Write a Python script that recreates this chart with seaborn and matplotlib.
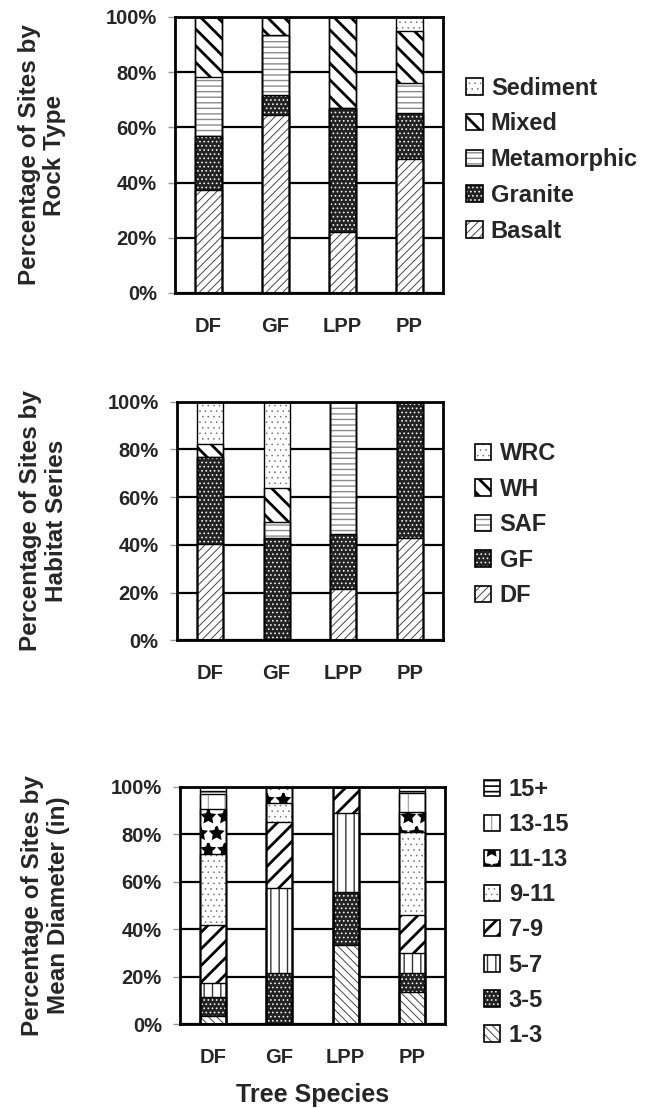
import matplotlib
matplotlib.use("Agg")
import matplotlib.pyplot as plt
from matplotlib.patches import Patch
from matplotlib.colors import to_rgba
import numpy as np
import pandas as pd
import seaborn as sns

# ---------------- data ----------------
species = ["DF", "GF", "LPP", "PP"]
y_ticks = [0, 20, 40, 60, 80, 100]
y_tick_labels = ["0%", "20%", "40%", "60%", "80%", "100%"]

rock_types = ["Basalt", "Granite", "Metamorphic", "Mixed", "Sediment"]
rock_basalt = [37.3, 64.5, 22.1, 48.6]
rock_granite = [19.6, 7.2, 44.9, 16.7]
rock_metamorphic = [21.5, 21.7, 0.0, 10.7]
rock_mixed = [21.6, 6.6, 33.0, 19.0]
rock_sediment = [0.0, 0.0, 0.0, 5.0]

habitat_series = ["DF", "GF", "SAF", "WH", "WRC"]
hab_df = [40.4, 0.0, 21.5, 42.7]
hab_gf = [36.6, 43.0, 22.9, 57.3]
hab_saf = [0.0, 6.7, 55.6, 0.0]
hab_wh = [5.3, 14.3, 0.0, 0.0]
hab_wrc = [17.7, 36.0, 0.0, 0.0]

diameter_classes = ["1-3", "3-5", "5-7", "7-9", "9-11", "11-13", "13-15", "15+"]
d_1_3 = [3.4, 0.0, 33.3, 13.6]
d_3_5 = [8.1, 21.6, 22.5, 7.7]
d_5_7 = [5.6, 35.6, 33.0, 8.5]
d_7_9 = [24.6, 28.0, 11.2, 16.1]
d_9_11 = [29.8, 7.8, 0.0, 35.1]
d_11_13 = [19.0, 7.0, 0.0, 8.5]
d_13_15 = [6.5, 0.0, 0.0, 8.0]
d_15p = [3.0, 0.0, 0.0, 2.5]

# ---------------- styles ----------------
S = {
    "fine_fwd": dict(face="white", hatch="////", hc="#444444", hlw=0.7),
    "fine_back": dict(face="white", hatch="\\\\\\\\", hc="#444444", hlw=0.7),
    "dark_dots": dict(face="#222222", hatch="....", hc="#f0f0f0", hlw=0.7),
    "wave": dict(face="white", hatch="---", hc="#8c8c8c", hlw=1.0),
    "thick_back": dict(face="white", hatch="\\\\", hc="#000000", hlw=2.0),
    "thick_fwd": dict(face="white", hatch="//", hc="#010101", hlw=2.0),
    "gray_dots": dict(face="white", hatch="...", hc="#707070", hlw=0.4),
    "vdash": dict(face="white", hatch="||", hc="#333333", hlw=1.0),
    "diamonds": dict(face="white", hatch="*", hc="#020202", hlw=1.8),
    "sparse_v": dict(face="white", hatch="|", hc="#999999", hlw=0.8),
    "hlines": dict(face="white", hatch="---", hc="#030303", hlw=1.2),
}

sns.set_style("white")
plt.rcParams["font.family"] = ["Liberation Sans", "DejaVu Sans"]
plt.rcParams["font.weight"] = "bold"

fig = plt.figure(figsize=(6.59, 11.08), dpi=100)


def style_patch(p, st):
    p.set_facecolor(st["face"])
    p.set_hatch(st["hatch"])
    p.set_edgecolor(st["hc"])
    p.set_linewidth(0)


def draw_panel(ax, layers, names, styles, ylabel, ylabel_x, leg_anchor,
               labelspacing):
    cum = np.cumsum(np.array(layers, dtype=float), axis=0)
    n = len(layers)
    # filled layers, drawn from top of stack downwards
    for k in reversed(range(n)):
        st = S[styles[k]]
        df = pd.DataFrame({"species": species, "pct": cum[k]})
        before = len(ax.patches)
        sns.barplot(data=df, x="species", y="pct", order=species,
                    color=st["face"], width=0.39, errorbar=None,
                    saturation=1, ax=ax)
        for p in ax.patches[before:]:
            style_patch(p, st)
    # outlines
    for k in range(n):
        df = pd.DataFrame({"species": species, "pct": cum[k]})
        sns.barplot(data=df, x="species", y="pct", order=species,
                    color="black", fill=False, width=0.39, errorbar=None,
                    linewidth=1.0, saturation=1, ax=ax)

    ax.set_ylim(0, 100)
    ax.set_xlim(-0.5, 3.5)
    ax.set_yticks(y_ticks)
    ax.set_yticklabels(y_tick_labels)
    ax.set_xticks(range(len(species)))
    ax.set_xticklabels(species)
    ax.set_xticks([-0.5, 0.5, 1.5, 2.5, 3.5], minor=True)
    ax.tick_params(axis="x", which="major", length=0, pad=17,
                   labelsize=14.5)
    ax.tick_params(axis="x", which="minor", length=5, width=1,
                   color="#999999", direction="out")
    ax.tick_params(axis="y", which="major", length=5, width=1,
                   color="#999999", direction="out", pad=8, labelsize=14.5,
                   left=True)
    for lab in ax.get_xticklabels() + ax.get_yticklabels():
        lab.set_fontweight("bold")
    ax.yaxis.grid(True, color="black", linewidth=1.6)
    ax.xaxis.grid(False)
    ax.set_axisbelow(True)
    for sp in ax.spines.values():
        sp.set_visible(True)
        sp.set_color("black")
        sp.set_linewidth(2.0)
    ax.set_xlabel("")
    ax.set_ylabel(ylabel, fontsize=17.5, fontweight="bold", linespacing=1.15)
    ax.yaxis.set_label_coords(ylabel_x, 0.5)

    handles = []
    for k in range(n):
        st = S[styles[k]]
        fp = Patch(facecolor=st["face"], edgecolor=st["hc"],
                   hatch=st["hatch"], linewidth=0)
        op = Patch(facecolor="none", edgecolor="black", linewidth=1.2)
        handles.append((fp, op))
    ax.legend(handles=handles[::-1], labels=names[::-1], loc="center left",
              bbox_to_anchor=leg_anchor, frameon=False,
              prop={"weight": "bold", "size": 17},
              handlelength=0.7, handleheight=0.7, handletextpad=0.35,
              labelspacing=labelspacing, borderpad=0, borderaxespad=0)


W, H = 659.0, 1108.0
ax1 = fig.add_axes([175 / W, 1 - 293 / H, 268 / W, 276 / H])
ax2 = fig.add_axes([176.7 / W, 1 - 640.3 / H, 266.3 / W, 238.6 / H])
ax3 = fig.add_axes([180 / W, 1 - 1024 / H, 265 / W, 237.3 / H])

draw_panel(ax1,
           [rock_basalt, rock_granite, rock_metamorphic, rock_mixed, rock_sediment],
           rock_types,
           ["fine_fwd", "dark_dots", "wave", "thick_back", "gray_dots"],
           "Percentage of Sites by\nRock Type", -0.405, (1.086, 0.483), 0.54)

draw_panel(ax2,
           [hab_df, hab_gf, hab_saf, hab_wh, hab_wrc],
           habitat_series,
           ["fine_fwd", "dark_dots", "wave", "thick_back", "gray_dots"],
           "Percentage of Sites by\nHabitat Series", -0.41, (1.12, 0.485), 0.53)

draw_panel(ax3,
           [d_1_3, d_3_5, d_5_7, d_7_9, d_9_11, d_11_13, d_13_15, d_15p],
           diameter_classes,
           ["fine_back", "dark_dots", "vdash", "thick_fwd", "gray_dots",
            "diamonds", "sparse_v", "hlines"],
           "Percentage of Sites by\nMean Diameter (in)", -0.415, (1.147, 0.47), 0.51)

ax3.set_xlabel("Tree Species", fontsize=18, fontweight="bold", labelpad=12)

# per-pattern hatch line widths (applied while each patch is drawn)
HLW = {(st["hatch"], to_rgba(st["hc"])): st["hlw"] for st in S.values()}


def apply_hatch_lw(p, lw):
    if hasattr(p, "set_hatch_linewidth"):
        p.set_hatch_linewidth(lw)
    orig = p.draw

    def draw(renderer, _orig=orig, _lw=lw):
        with plt.rc_context({"hatch.linewidth": _lw}):
            _orig(renderer)
    p.draw = draw


fig.canvas.draw()
for p in fig.findobj(Patch):
    h = p.get_hatch()
    if h:
        key = (h, tuple(p.get_edgecolor()))
        if key in HLW:
            apply_hatch_lw(p, HLW[key])

fig.savefig("out.png", dpi=100)
